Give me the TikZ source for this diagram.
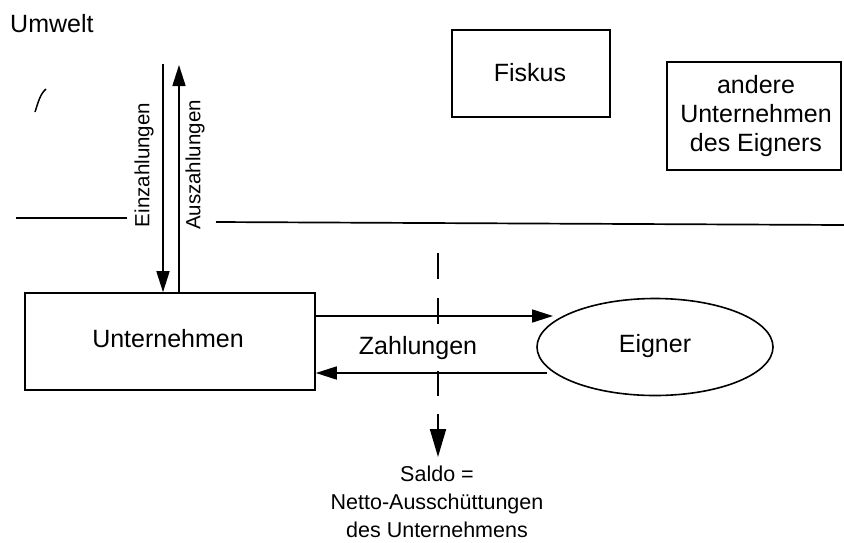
\documentclass[tikz,border=0pt]{standalone}
\usepackage{fontspec}
\setmainfont{Liberation Sans}
\usetikzlibrary{arrows.meta,shapes.geometric}
\tikzset{
  big/.style={font=\fontsize{25}{29}\selectfont, inner sep=0pt},
  small/.style={font=\fontsize{20.5}{24}\selectfont, inner sep=0pt},
  saldo/.style={font=\fontsize{21.5}{28}\selectfont, inner sep=0pt, align=center},
  box/.style={draw, line width=1.6pt, rectangle, inner sep=0pt},
  arr/.style={line width=1.6pt, -{Triangle[length=21pt,width=13pt]}},
  line/.style={line width=1.7pt},
}
\begin{document}
\begin{tikzpicture}[x=1pt,y=-1pt]
\useasboundingbox (0,0) rectangle (844,542);
% Umwelt
\node[big, anchor=base west] (umwelt) at (10,32) {Umwelt};
\draw[line width=1.5pt] (46,89) .. controls (40,94) and (38,103) .. (35,112);
% dividing line
\coordinate (l1) at (16,218);
\coordinate (l2) at (127,218);
\coordinate (r1) at (216,222);
\coordinate (r2) at (844,225);
\draw[line] (l1) -- (l2);
\draw[line] (r1) -- (r2);
% boxes
\node[box, minimum width=158pt, minimum height=87pt] (fiskus) at (531,73.5) {};
\node[big] at (530,72.5) {Fiskus};
\node[box, minimum width=174pt, minimum height=108pt] (andere) at (754,116) {};
\node[big, align=center] (anderetext) at (756,116) {andere\\Unternehmen\\des Eigners};
\node[box, minimum width=290pt, minimum height=97pt] (U) at (170,341.5) {};
\node[big] (Utext) at (168,338.5) {Unternehmen};
\node[draw, line width=1.6pt, ellipse, minimum width=236pt, minimum height=97pt, inner sep=0pt] (E) at (655,347) {};
\node[big] (Etext) at (655,346) {Eigner};
% vertical arrows
\coordinate (ein) at (163,64);
\coordinate (aus) at (179,65);
\draw[arr] (ein) -- (ein |- U.north);
\draw[arr] (aus |- U.north) -- (aus);
\node[small, rotate=90] (einl) at (144,165) {Einzahlungen};
\node[small, rotate=90] (ausl) at (195,165) {Auszahlungen};
% horizontal arrows
\coordinate (h1) at (553,316);
\coordinate (h2) at (547,373);
\draw[arr] (U.east |- h1) -- (h1);
\draw[arr] (h2) -- (U.east |- h2);
\node[big, anchor=base] (zahl) at (418,354) {Zahlungen};
% dashed saldo arrow
\coordinate (d1) at (438,253);
\coordinate (d2) at (438,457);
\draw[line width=2pt, dash pattern=on 26pt off 19pt on 26pt off 47pt on 25pt off 18pt on 100pt,
  -{Triangle[length=28pt,width=16pt]}] (d1) -- (d2);
\node[saldo, anchor=north] (saldo) at (437,466) {Saldo =\\Netto-Ausschüttungen\\des Unternehmens};
\end{tikzpicture}
\end{document}
